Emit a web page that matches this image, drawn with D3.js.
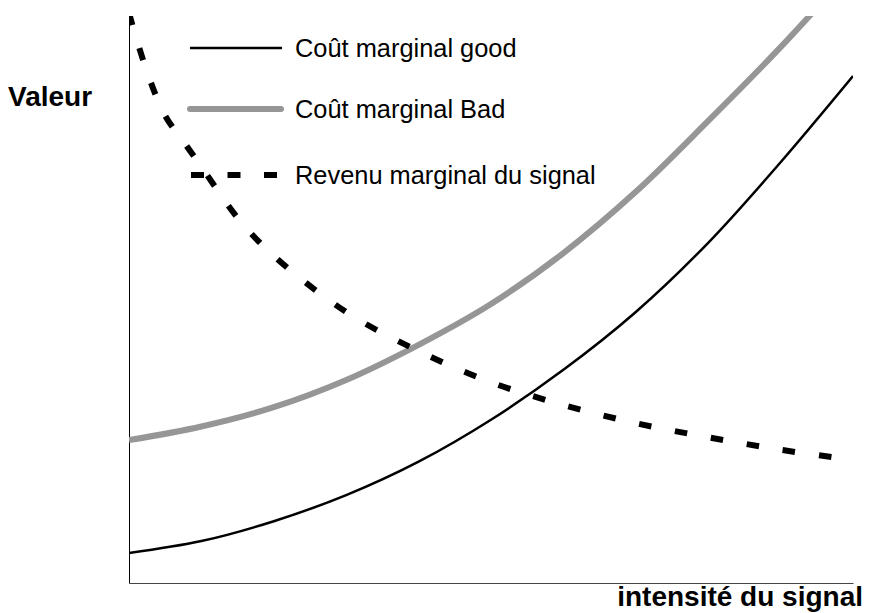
<!DOCTYPE html>
<html>
<head>
<meta charset="utf-8">
<script src="https://cdn.jsdelivr.net/npm/d3@7"></script>
<style>
  body { margin: 0; background: #fff; }
  text { font-family: "Liberation Sans", Arial, sans-serif; }
</style>
</head>
<body>
<div id="chart"></div>
<script>
const width = 870;
const height = 613;

// x positions (intensité du signal) and the two cost curves
const xs = [0, 1, 2, 3, 4, 5, 6, 7, 8, 9, 10];
const coutGood = [5.3, 7.4, 10.9, 15.5, 21.4, 28.8, 37.6, 47.8, 60.0, 74.2, 89.4];
const coutBad = [25.2, 27.6, 31.0, 35.8, 42.0, 49.2, 58.2, 69.0, 81.5, 94.5, 108.5];

// revenu marginal, sampled more densely near the left edge
const revenuX = [0, 0.25, 0.5, 0.75, 1, 1.5, 2, 3, 4, 5, 6, 7, 8, 9, 10];
const revenu = [100.5, 90.1, 82.4, 77.9, 73.4, 64.4, 57.7, 47.8, 40.9, 35.4, 31.4, 28.2, 25.7, 23.5, 21.7];

const seriesNames = ["Coût marginal good", "Coût marginal Bad", "Revenu marginal du signal"];

const x = d3.scaleLinear().domain([0, 10]).range([129, 853]);
const y = d3.scaleLinear().domain([0, 100]).range([583, 16]);

const svg = d3.select("#chart")
    .append("svg")
    .attr("width", width)
    .attr("height", height)
    .attr("viewBox", [0, 0, width, height]);

svg.append("clipPath")
    .attr("id", "plot")
    .append("rect")
    .attr("x", 129)
    .attr("y", 16)
    .attr("width", 724)
    .attr("height", 567);

// axes: just the lines, no ticks
svg.append("g")
    .attr("transform", `translate(${x(0)},0)`)
    .call(d3.axisLeft(y).tickValues([]).tickSizeOuter(0))
    .select(".domain").attr("stroke", "#000");

svg.append("g")
    .attr("transform", `translate(0,${y(0)})`)
    .call(d3.axisBottom(x).tickValues([]).tickSizeOuter(0))
    .select(".domain").attr("stroke", "#444");

const line = d3.line()
    .x(d => x(d[0]))
    .y(d => y(d[1]))
    .curve(d3.curveCatmullRom.alpha(0.5));

const curves = svg.append("g").attr("clip-path", "url(#plot)").attr("fill", "none");

curves.append("path")
    .attr("d", line(xs.map((v, i) => [v, coutBad[i]])))
    .attr("stroke", "#969696")
    .attr("stroke-width", 6);

curves.append("path")
    .attr("d", line(xs.map((v, i) => [v, coutGood[i]])))
    .attr("stroke", "#000")
    .attr("stroke-width", 2.5);

curves.append("path")
    .attr("d", line(revenuX.map((v, i) => [v, revenu[i]])))
    .attr("stroke", "#000")
    .attr("stroke-width", 6)
    .attr("stroke-dasharray", "12.5,24");

// legend
const legend = svg.append("g");
const legendStyles = [
    { y: 48, x1: 190, x2: 282, stroke: "#000", w: 2.5, cap: "butt", dash: null },
    { y: 109, x1: 190, x2: 281, stroke: "#969696", w: 6, cap: "round", dash: null },
    { y: 175, x1: 191, x2: 278, stroke: "#000", w: 6, cap: "butt", dash: "13,23.5" }
];
legendStyles.forEach((s, i) => {
    legend.append("line")
        .attr("x1", s.x1).attr("x2", s.x2)
        .attr("y1", s.y).attr("y2", s.y)
        .attr("stroke", s.stroke)
        .attr("stroke-width", s.w)
        .attr("stroke-linecap", s.cap)
        .attr("stroke-dasharray", s.dash);
    legend.append("text")
        .attr("x", 295)
        .attr("y", s.y + 9)
        .attr("font-size", 25.4)
        .attr("fill", "#000")
        .text(seriesNames[i]);
});

// axis titles
svg.append("text")
    .attr("x", 8)
    .attr("y", 106)
    .attr("font-size", 28)
    .attr("font-weight", "bold")
    .text("Valeur");

svg.append("text")
    .attr("x", 863)
    .attr("y", 606)
    .attr("text-anchor", "end")
    .attr("font-size", 28)
    .attr("font-weight", "bold")
    .text("intensité du signal");
</script>
</body>
</html>
